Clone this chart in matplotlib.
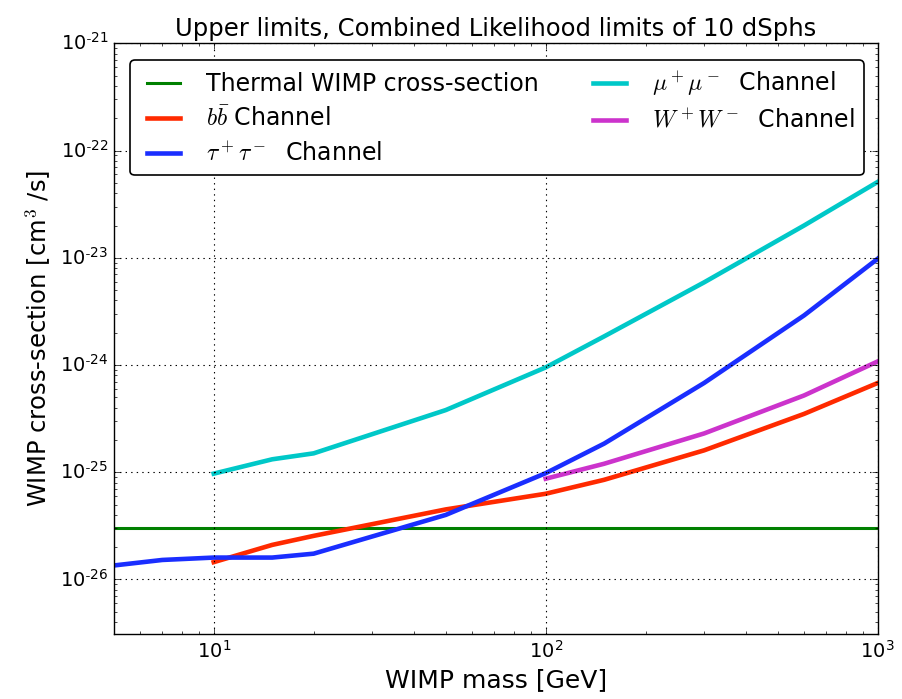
import numpy as np
import matplotlib
matplotlib.use("Agg")
import matplotlib.pyplot as plt
from matplotlib.ticker import FuncFormatter

plt.style.use("classic")
plt.rcParams["axes.unicode_minus"] = False
plt.rcParams["mathtext.fontset"] = "cm"

# thermal relic cross-section
thermal_xs = 3e-26

# WIMP masses [GeV] and upper limits [cm^3/s] per channel
mass_bb = [10, 15, 20, 50, 100, 150, 300, 600, 1000]
xs_bb = [1.45e-26, 2.1e-26, 2.55e-26, 4.5e-26, 6.3e-26, 8.5e-26, 1.6e-25, 3.5e-25, 6.8e-25]

mass_tau = [5, 7, 10, 15, 20, 50, 100, 150, 300, 600, 1000]
xs_tau = [1.35e-26, 1.52e-26, 1.6e-26, 1.6e-26, 1.74e-26, 4.0e-26, 9.8e-26, 1.85e-25,
          6.8e-25, 2.9e-24, 9.8e-24]

mass_mu = [10, 15, 20, 50, 100, 150, 300, 600, 1000]
xs_mu = [9.7e-26, 1.32e-25, 1.5e-25, 3.8e-25, 9.5e-25, 1.85e-24, 5.9e-24, 2.0e-23, 5.1e-23]

mass_ww = [100, 150, 300, 600, 1000]
xs_ww = [8.7e-26, 1.2e-25, 2.3e-25, 5.2e-25, 1.08e-24]

fig = plt.figure(figsize=(9.03, 6.99), dpi=100, facecolor="white")
ax = fig.add_axes([0.126, 0.093, 0.846, 0.845])

ax.plot([5, 1000], [thermal_xs, thermal_xs], color="g", lw=2.2,
        label="Thermal WIMP cross-section")
ax.plot(mass_bb, xs_bb, color="#ff2a00", lw=3.3, label=r"$b\bar{b}$ Channel")
ax.plot(mass_tau, xs_tau, color="#1a2eff", lw=3.3, label=r"$\tau^+\tau^-$  Channel")
ax.plot(mass_mu, xs_mu, color="#00c8c8", lw=3.3, label=r"$\mu^+\mu^-$  Channel")
ax.plot(mass_ww, xs_ww, color="#cc33cc", lw=3.3, label=r"$W^+W^-$  Channel")

ax.set_xscale("log")
ax.set_yscale("log")
ax.set_xlim(5, 1000)
ax.set_ylim(3.1e-27, 1e-21)


def decade(v, pos):
    """10^n label with a plain hyphen for negative exponents"""
    n = int(round(np.log10(v)))
    exp = r"\text{-}%d" % -n if n < 0 else "%d" % n
    return r"$\mathdefault{10^{%s}}$" % exp


ax.xaxis.set_major_formatter(FuncFormatter(decade))
ax.yaxis.set_major_formatter(FuncFormatter(decade))
ax.tick_params(labelsize=14)

ax.grid(True, which="major", color="k", linestyle=":", linewidth=0.8)
ax.set_xlabel("WIMP mass [GeV]", fontsize=18)
ax.set_ylabel(r"WIMP cross-section [cm$^3$ /s]", fontsize=17.5)
ax.set_title("Upper limits, Combined Likelihood limits of 10 dSphs", fontsize=17.5)

leg = ax.legend(loc="upper left", ncol=2, fontsize=17, fancybox=True,
                handlelength=2.0, columnspacing=2.0, borderaxespad=0.7,
                labelspacing=0.45)
leg.get_frame().set_linewidth(1.2)

fig.savefig("out.png", dpi=100, facecolor="white")
